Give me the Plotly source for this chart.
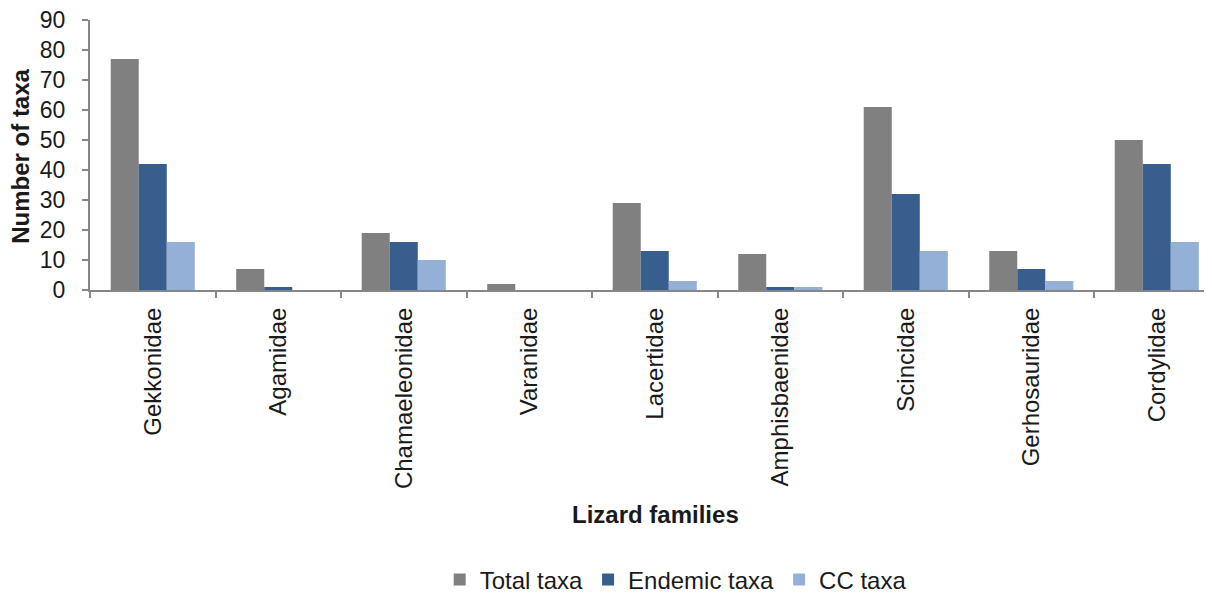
import plotly.graph_objects as go

families = ["Gekkonidae", "Agamidae", "Chamaeleonidae", "Varanidae", "Lacertidae",
            "Amphisbaenidae", "Scincidae", "Gerhosauridae", "Cordylidae"]
total_taxa = [77, 7, 19, 2, 29, 12, 61, 13, 50]
endemic_taxa = [42, 1, 16, 0, 13, 1, 32, 7, 42]
cc_taxa = [16, 0, 10, 0, 3, 1, 13, 3, 16]
y_ticks = [0, 10, 20, 30, 40, 50, 60, 70, 80, 90]

FONT = "Liberation Sans, Arial, sans-serif"
AXIS_COLOR = "#868686"
TEXT_COLOR = "#1a1a1a"

fig = go.Figure()
fig.add_trace(go.Bar(name="Total taxa", x=families, y=total_taxa,
                     marker=dict(color="#808080", line=dict(width=0))))
fig.add_trace(go.Bar(name="Endemic taxa", x=families, y=endemic_taxa,
                     marker=dict(color="#375E8D", line=dict(width=0))))
fig.add_trace(go.Bar(name="CC taxa", x=families, y=cc_taxa,
                     marker=dict(color="#95B0D6", line=dict(width=0))))

# The page body has an 8px default margin; the figure is sized/offset to compensate.
fig.update_layout(
    width=1204, height=588,
    margin=dict(l=82, r=0, t=12, b=306, autoexpand=False),
    plot_bgcolor="white", paper_bgcolor="white",
    barmode="group", bargap=0.33, bargroupgap=0,
    font=dict(family=FONT, size=23, color=TEXT_COLOR),
    showlegend=True,
    legend=dict(orientation="h", x=0.522, xanchor="center", y=-1.074, yanchor="middle",
                font=dict(size=24, family=FONT, color=TEXT_COLOR), traceorder="normal",
                itemwidth=30, itemsizing="constant"),
    xaxis=dict(range=[-0.5, 8.44], showline=True, linecolor=AXIS_COLOR, linewidth=2,
               ticks="outside", tickson="boundaries", ticklen=6, tickcolor=AXIS_COLOR,
               tickwidth=2, tickangle=-90, tickfont=dict(size=24, family=FONT, color=TEXT_COLOR),
               ticklabelstandoff=6, showgrid=False, automargin=False),
    yaxis=dict(range=[0, 90], tickvals=y_ticks, showline=True, linecolor=AXIS_COLOR,
               linewidth=2, ticks="outside", ticklen=6, tickcolor=AXIS_COLOR, tickwidth=2,
               tickfont=dict(size=23, family=FONT, color=TEXT_COLOR), ticklabelstandoff=12,
               ticklabeloverflow="allow",
               showgrid=False, zeroline=False, automargin=False),
    annotations=[
        dict(text="<b>Lizard families</b>", x=0.504, y=-0.833, xref="paper", yref="paper",
             xanchor="center", yanchor="middle", showarrow=False,
             font=dict(size=24, family=FONT, color=TEXT_COLOR)),
        dict(text="<b>Number of taxa</b>", x=-0.062, y=0.495, xref="paper", yref="paper",
             xanchor="center", yanchor="middle", showarrow=False, textangle=-90,
             font=dict(size=24, family=FONT, color=TEXT_COLOR)),
    ],
)

fig.write_html("out.html")
